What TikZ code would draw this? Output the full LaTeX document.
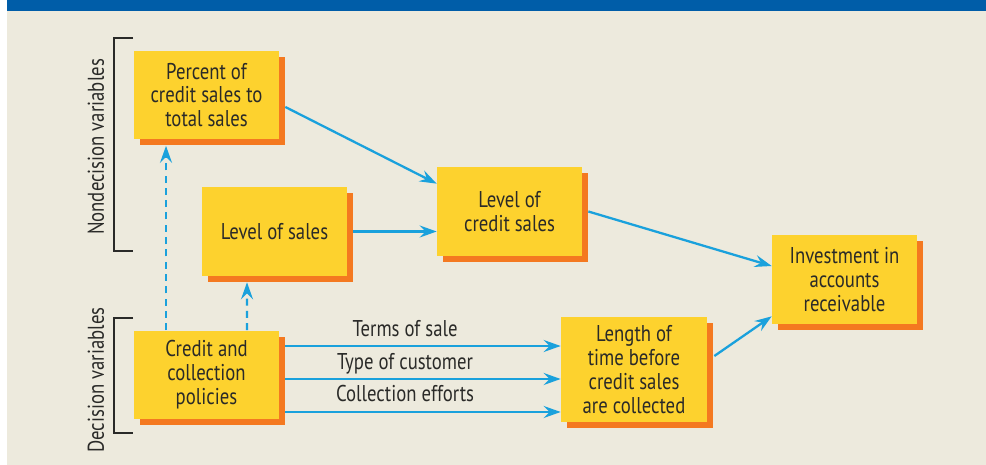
\documentclass[tikz,border=0pt]{standalone}
\usepackage{fontspec}
\setmainfont{PT Sans}[FakeStretch=0.82]
\usepackage{xcolor}
\usetikzlibrary{arrows.meta, positioning, shadows}
\definecolor{bannerBlue}{HTML}{005DA8}
\definecolor{paper}{HTML}{EDEADD}
\definecolor{boxYellow}{HTML}{FDD22E}
\definecolor{boxShadow}{HTML}{F47920}
\definecolor{flowBlue}{HTML}{1AA1DC}
\definecolor{ink}{HTML}{2A2A28}
\tikzset{
    varBox/.style={rectangle, fill=boxYellow, text=ink, align=center, inner sep=2pt,
        minimum width=2.9cm, minimum height=1.78cm, font=\fontsize{13}{13.6}\selectfont,
        drop shadow={shadow xshift=0.12cm, shadow yshift=-0.12cm, fill=boxShadow, opacity=1}},
    flow/.style={-{Stealth[length=3.4mm, width=2.4mm, inset=1.2mm]}, draw=flowBlue, line width=1.3pt},
    bracketLine/.style={draw=ink, line width=0.7pt},
    sideLabel/.style={rotate=90, text=ink, font=\fontsize{13}{13.6}\selectfont}
}

\begin{document}
\begin{tikzpicture}[x=0.02cm, y=-0.02cm]
    % page, panel and top band
    \fill[white] (0,0) rectangle (986,465);
    \fill[paper] (7,0) rectangle (986,465);
    \fill[bannerBlue] (7,0) rectangle (986,11);
    \useasboundingbox (0,0) rectangle (986,465);

    \node[varBox] (pct) at (206.5,95) {Percent of\\credit sales to\\total sales};
    \node[varBox] (sales) at (274.5,231.5) {Level of sales};
    \node[varBox] (credit) at (509.5,211.5) {Level of\\credit sales};
    \node[varBox] (invest) at (844.5,279.5) {Investment in\\accounts\\receivable};
    \node[varBox, minimum width=2.92cm, minimum height=2.1cm] (length) at (634,369.5) {Length of\\time before\\credit sales\\are collected};
    \node[varBox] (policy) at (206.5,375) {Credit and\\collection\\policies};

    % brackets for the two groups
    \draw[bracketLine] (133,38) -- (114,38) -- (114,251) -- (133,251);
    \draw[bracketLine] (133,318) -- (114,318) -- (114,433) -- (133,433);
    \node[sideLabel] (nondecision) at (96,147) {Nondecision variables};
    \node[sideLabel] (decision) at (96,380) {Decision variables};

    \draw[flow] ([xshift=0.12cm, yshift=-0.24cm]pct.east) -- ([yshift=-0.34cm]credit.north west);
    \draw[flow] ([xshift=0.12cm]sales.east) -- (sales.east -| credit.west);
    \draw[flow] ([xshift=0.12cm]credit.east) -- ([yshift=0.27cm]invest.west);
    \draw[flow] ([xshift=0.14cm, yshift=0.27cm]length.east) -- ([yshift=0.16cm]invest.south west);
    \foreach \dy/\txt in {0.58/Terms of sale, -0.08/Type of customer, -0.74/Collection efforts}
        \draw[flow] ([xshift=0.12cm, yshift=\dy cm]policy.east) -- ([yshift=\dy cm]policy.east -| length.west)
            node[pos=0.435, anchor=base, yshift=0.2cm, text=ink, font=\fontsize{13}{13.6}\selectfont] {\txt};
    \draw[flow, dash pattern=on 4pt off 3pt] ([xshift=-0.81cm]policy.north) -- ([xshift=-0.81cm, yshift=-0.12cm]pct.south);
    \draw[flow, dash pattern=on 4pt off 3pt] ([xshift=0.81cm]policy.north) -- ([xshift=-0.55cm, yshift=-0.12cm]sales.south);
\end{tikzpicture}
\end{document}
